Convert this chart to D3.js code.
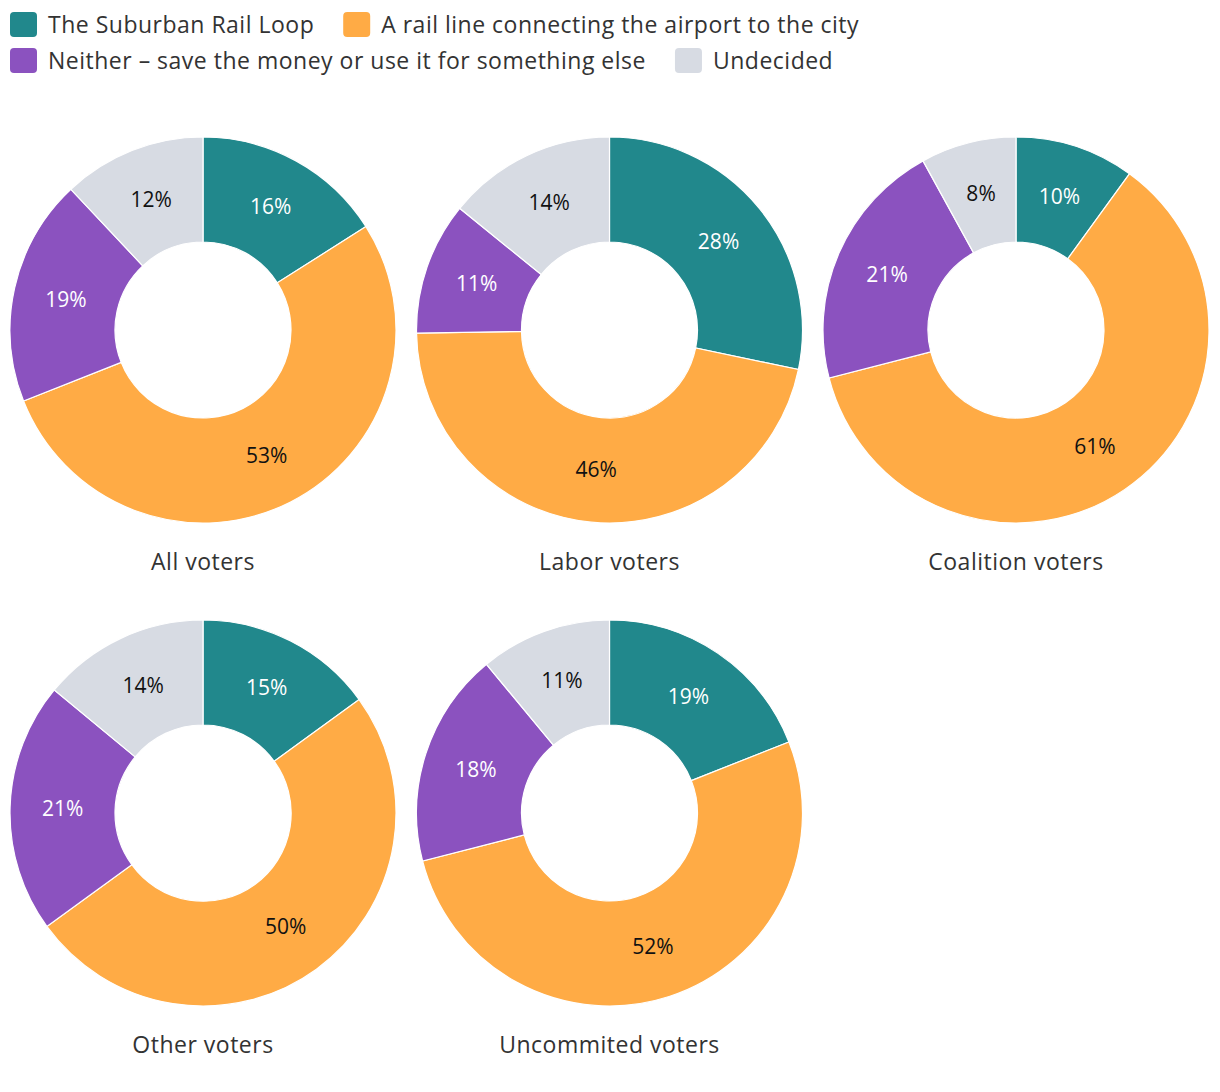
<!DOCTYPE html>
<html><head><meta charset="utf-8">
<script src="https://cdn.jsdelivr.net/npm/d3@7"></script>
<style>
body{margin:0;background:#fff;}
svg{display:block;font-family:"Open Sans",sans-serif;}
</style></head><body>
<svg id="c" width="1220" height="1092"></svg>
<script>
const seriesNames = ["The Suburban Rail Loop","A rail line connecting the airport to the city","Neither \u2013 save the money or use it for something else","Undecided"];
const seriesColors = ["#21888c","#ffab45","#8b52bf","#d7dbe3"];
const labelColors = ["#ffffff","#111111","#ffffff","#111111"];
const groups = ["All voters","Labor voters","Coalition voters","Other voters","Uncommited voters"];
const suburbanRail = [16,28,10,15,19];
const airportRail = [53,46,61,50,52];
const neither = [19,11,21,21,18];
const undecided = [12,14,8,14,11];

const svg = d3.select("#c");
// legend
const legendRows = [[0,1],[2,3]];
const legend = svg.append("g");
legendRows.forEach((row,ri)=>{
  let x = 10;
  row.forEach(i=>{
    const g = legend.append("g").attr("transform",`translate(${x},${ri*36+12})`);
    g.append("rect").attr("width",27).attr("height",25).attr("rx",4).attr("fill",seriesColors[i]);
    const t = g.append("text").attr("x",38).attr("y",21).attr("font-size",23)
      .attr("letter-spacing",0.5).attr("fill","#333").text(seriesNames[i]);
    x += 38 + t.node().getComputedTextLength() + 29;
  });
});

const cols = 3, colX = d3.scaleLinear().domain([0,2]).range([203,1016]);
const rowY = d3.scaleLinear().domain([0,1]).range([330,813]);
const rOuter = 193, rInner = 88;
const pie = d3.pie().sort(null).value(d=>d);
const arc = d3.arc().innerRadius(rInner).outerRadius(rOuter);
const labelArc = d3.arc().innerRadius((rInner+rOuter)/2).outerRadius((rInner+rOuter)/2);

groups.forEach((name,gi)=>{
  const vals = [suburbanRail[gi],airportRail[gi],neither[gi],undecided[gi]];
  const cx = colX(gi%cols), cy = rowY(Math.floor(gi/cols));
  const g = svg.append("g").attr("transform",`translate(${cx},${cy})`);
  const arcs = pie(vals);
  g.selectAll("path").data(arcs).join("path")
    .attr("d",arc).attr("fill",(d,i)=>seriesColors[i])
    .attr("stroke","#fff").attr("stroke-width",1.2);
  g.selectAll("text.lbl").data(arcs).join("text").attr("class","lbl")
    .attr("transform",d=>`translate(${labelArc.centroid(d)})`)
    .attr("text-anchor","middle").attr("dy","0.35em")
    .attr("font-size",21).attr("fill",(d,i)=>labelColors[i])
    .text(d=>d.data+"%");
  g.append("text").attr("x",0).attr("y",rOuter+47).attr("text-anchor","middle")
    .attr("font-size",23).attr("letter-spacing",0.5).attr("fill","#333").text(name);
});
</script>
</body></html>
